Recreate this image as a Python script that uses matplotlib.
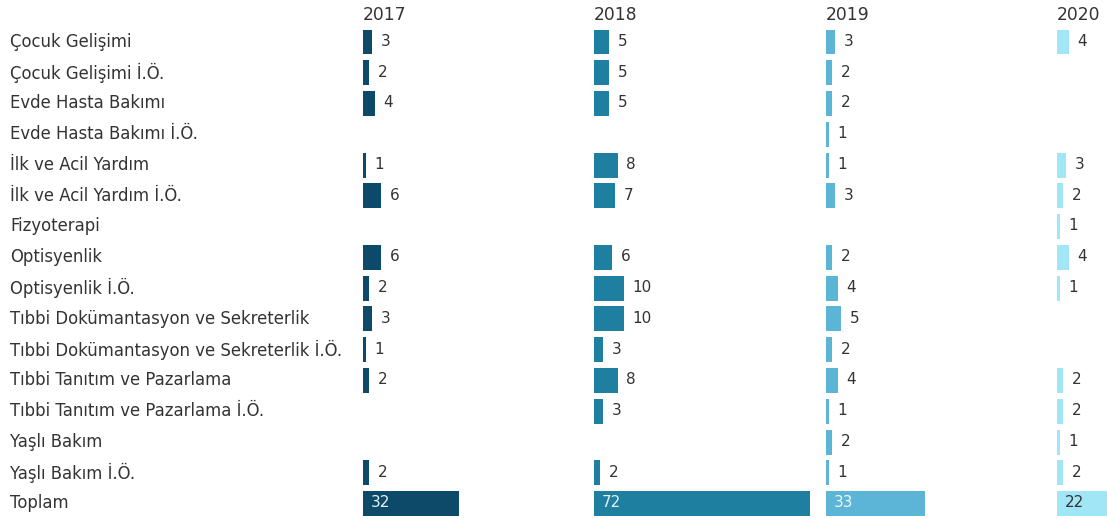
import numpy as np
import matplotlib.pyplot as plt

plt.rcParams['font.family'] = ['DejaVu Sans']

kategoriler = ["Çocuk Gelişimi", "Çocuk Gelişimi İ.Ö.", "Evde Hasta Bakımı",
               "Evde Hasta Bakımı İ.Ö.", "İlk ve Acil Yardım", "İlk ve Acil Yardım İ.Ö.",
               "Fizyoterapi", "Optisyenlik", "Optisyenlik İ.Ö.",
               "Tıbbi Dokümantasyon ve Sekreterlik", "Tıbbi Dokümantasyon ve Sekreterlik İ.Ö.",
               "Tıbbi Tanıtım ve Pazarlama", "Tıbbi Tanıtım ve Pazarlama İ.Ö.",
               "Yaşlı Bakım", "Yaşlı Bakım İ.Ö.", "Toplam"]
yillar = ["2017", "2018", "2019", "2020"]

# None = bos hucre
d2017 = [3, 2, 4, None, 1, 6, None, 6, 2, 3, 1, 2, None, None, 2, 32]
d2018 = [5, 5, 5, None, 8, 7, None, 6, 10, 10, 3, 8, 3, None, 2, 72]
d2019 = [3, 2, 2, 1, 1, 3, None, 2, 4, 5, 2, 4, 1, 2, 1, 33]
d2020 = [4, None, None, None, 3, 2, 1, 4, 1, None, None, 2, 2, 1, 2, 22]
veriler = [d2017, d2018, d2019, d2020]

renkler = ["#0d4a6a", "#1f7fa0", "#5cb4d7", "#a0e6f7"]
toplam_yazi = ["#e6f2f6", "#e6f2f6", "#eef8fb", "#333333"]

W, H = 1107, 519
fig = plt.figure(figsize=(W / 100, H / 100), dpi=100)

sutun_x = [363, 594, 826, 1057]
ust = 26.6
n = len(kategoriler)
satir = (H - ust) / n
kay = 0.07  # yazilari biraz yukari al (satir birimi)

for i, ad in enumerate(kategoriler):
    y = H - (ust + satir * (i + 0.5 - kay))
    fig.text(10 / W, y / H, ad, ha='left', va='center_baseline', fontsize=11.9, color='#333333')

for j, (yil, veri) in enumerate(zip(yillar, veriler)):
    genislik = 230
    ax = fig.add_axes([sutun_x[j] / W, 0, genislik / W, (H - ust) / H])
    ax.set_xlim(0, genislik / 3.0)
    ax.set_ylim(n - 0.5, -0.5)
    ax.axis('off')
    for i, v in enumerate(veri):
        if v is None:
            continue
        ax.barh(i, v, height=0.81, color=renkler[j], left=0)
        if i == n - 1:
            ax.text(2.6, i - kay, str(v), ha='left', va='center_baseline', fontsize=11, color=toplam_yazi[j])
        else:
            ax.text(v + 2.8, i - kay, str(v), ha='left', va='center_baseline', fontsize=11, color='#333333')
    fig.text(sutun_x[j] / W, 1 - 12.5 / H, yil, ha='left', va='center_baseline', fontsize=12.3, color='#333333')

plt.savefig("out.png", dpi=100)
